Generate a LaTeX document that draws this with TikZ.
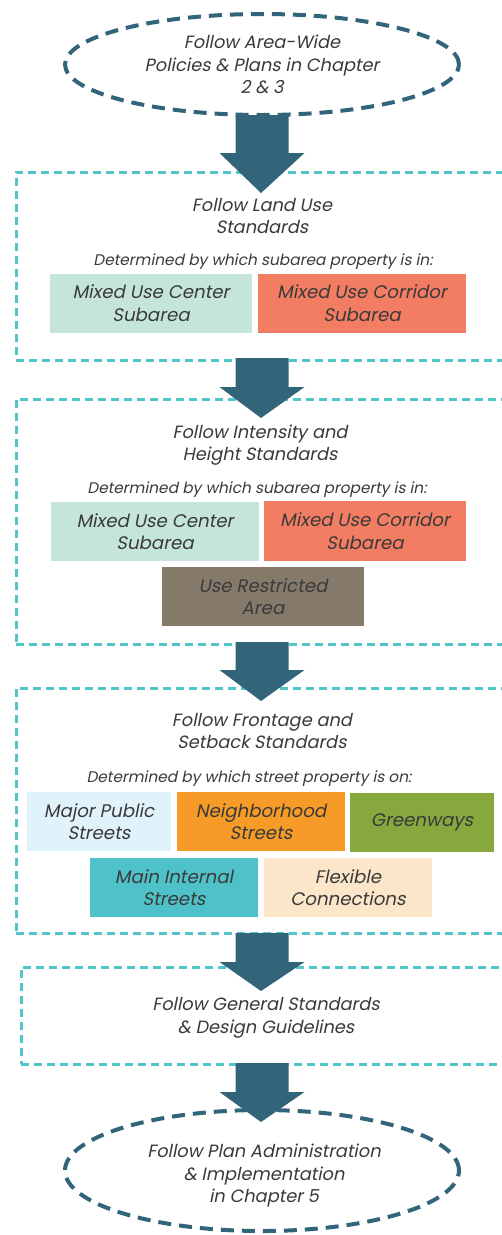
\documentclass[tikz,border=0pt]{standalone}
\usepackage{fontspec}
\setmainfont{Poppins}[FakeSlant=0.2]
\usepackage{tikz}
\usetikzlibrary{shapes.geometric}

\definecolor{flowblue}{HTML}{32657A}
\definecolor{framecyan}{HTML}{52C5C9}
\definecolor{textgray}{HTML}{3A3A3A}
\definecolor{centermint}{HTML}{C5E5DC}
\definecolor{corridorred}{HTML}{F27D63}
\definecolor{restrictbrown}{HTML}{857A69}
\definecolor{majorblue}{HTML}{E1F3FA}
\definecolor{neighorange}{HTML}{F69B27}
\definecolor{greengreen}{HTML}{86A83D}
\definecolor{internalteal}{HTML}{4FC1C8}
\definecolor{flexcream}{HTML}{FBE6C9}

\begin{document}
\begin{tikzpicture}[x=1pt,y=-1pt,
	every node/.style={text=textgray,align=center,font=\fontsize{17.8}{22.5}\selectfont},
	oval/.style={ellipse,draw=flowblue,line width=4pt,dash pattern=on 13pt off 8pt,minimum width=394pt,inner sep=0pt},
	frame/.style={draw=framecyan,line width=3pt,dash pattern=on 8pt off 5pt,anchor=north west,minimum width=514pt,inner sep=0pt,outer sep=0pt},
	subtitle/.style={anchor=base,font=\fontsize{15.4}{18}\selectfont},
	choice/.style={minimum height=59pt,inner sep=0pt,font=\fontsize{18.2}{22.5}\selectfont},
	flow/.style={fill=flowblue}]
	\useasboundingbox (0,0) rectangle (502,1235);
	\clip (0,0) rectangle (502,1235);

	% dashed frames
	\node[frame,minimum height=188pt] (landframe) at (16,172) {};
	\node[frame,minimum height=245pt] (heightframe) at (16,399) {};
	\node[frame,minimum height=245pt] (frontframe) at (16,688) {};
	\node[frame,minimum height=97pt,minimum width=509pt] (generalframe) at (21,967) {};

	% start and end
	\node[oval,minimum height=101pt] (areawide) at (262,64.5) {Follow Area-Wide\\Policies \& Plans in Chapter\\2 \& 3};
	\node[oval,minimum height=121pt] (admin) at (262,1170.5) {};
	\node (adminlabel) at (264,1176) {Follow Plan Administration\\\& Implementation\\in Chapter 5};

	% land use
	\node (landuse) at (262,216) {Follow Land Use\\Standards};
	\node[subtitle] (landsub) at (263,265) {Determined by which subarea property is in:};
	\node[choice,fill=centermint,minimum width=202pt] (landcenter) at (151,303) {Mixed Use Center\\Subarea};
	\node[choice,fill=corridorred,minimum width=208pt] (landcorridor) at (362,303) {Mixed Use Corridor\\Subarea};

	% intensity and height
	\node (height) at (260,445) {Follow Intensity and\\Height Standards};
	\node[subtitle] (heightsub) at (257,493) {Determined by which subarea property is in:};
	\node[choice,fill=centermint,minimum width=208pt] (heightcenter) at (155,531.5) {Mixed Use Center\\Subarea};
	\node[choice,fill=corridorred,minimum width=202pt,minimum height=60pt] (heightcorridor) at (365,531) {Mixed Use Corridor\\Subarea};
	\node[choice,fill=restrictbrown,minimum width=202pt] (restricted) at (263,596.5) {Use Restricted\\Area};

	% frontage and setback
	\node (frontage) at (262,731) {Follow Frontage and\\Setback Standards};
	\node[subtitle] (frontsub) at (249,782) {Determined by which street property is on:};
	\node[choice,fill=majorblue,minimum width=144pt] (major) at (99,821.5) {Major Public\\Streets};
	\node[choice,fill=neighorange,minimum width=168pt] (neighborhood) at (261,821.5) {Neighborhood\\Streets};
	\node[choice,fill=greengreen,minimum width=144pt] (greenways) at (422,822.5) {Greenways};
	\node[choice,fill=internalteal,minimum width=168pt] (internal) at (174,887.5) {Main Internal\\Streets};
	\node[choice,fill=flexcream,minimum width=168pt] (flexible) at (348,887.5) {Flexible\\Connections};

	% general standards
	\node (general) at (266,1018) {Follow General Standards\\\& Design Guidelines};

	% block arrows
	\foreach \top/\base/\tip in {115/153/193,358/387/418,642/670/701,933/962/991,1063/1092/1122}
		\fill[flow] (262-26.5,\top) -- (262+26.5,\top) -- (262+26.5,\base) -- (262+42.5,\base) -- (261,\tip) -- (262-42.5,\base) -- (262-26.5,\base) -- cycle;
\end{tikzpicture}
\end{document}
